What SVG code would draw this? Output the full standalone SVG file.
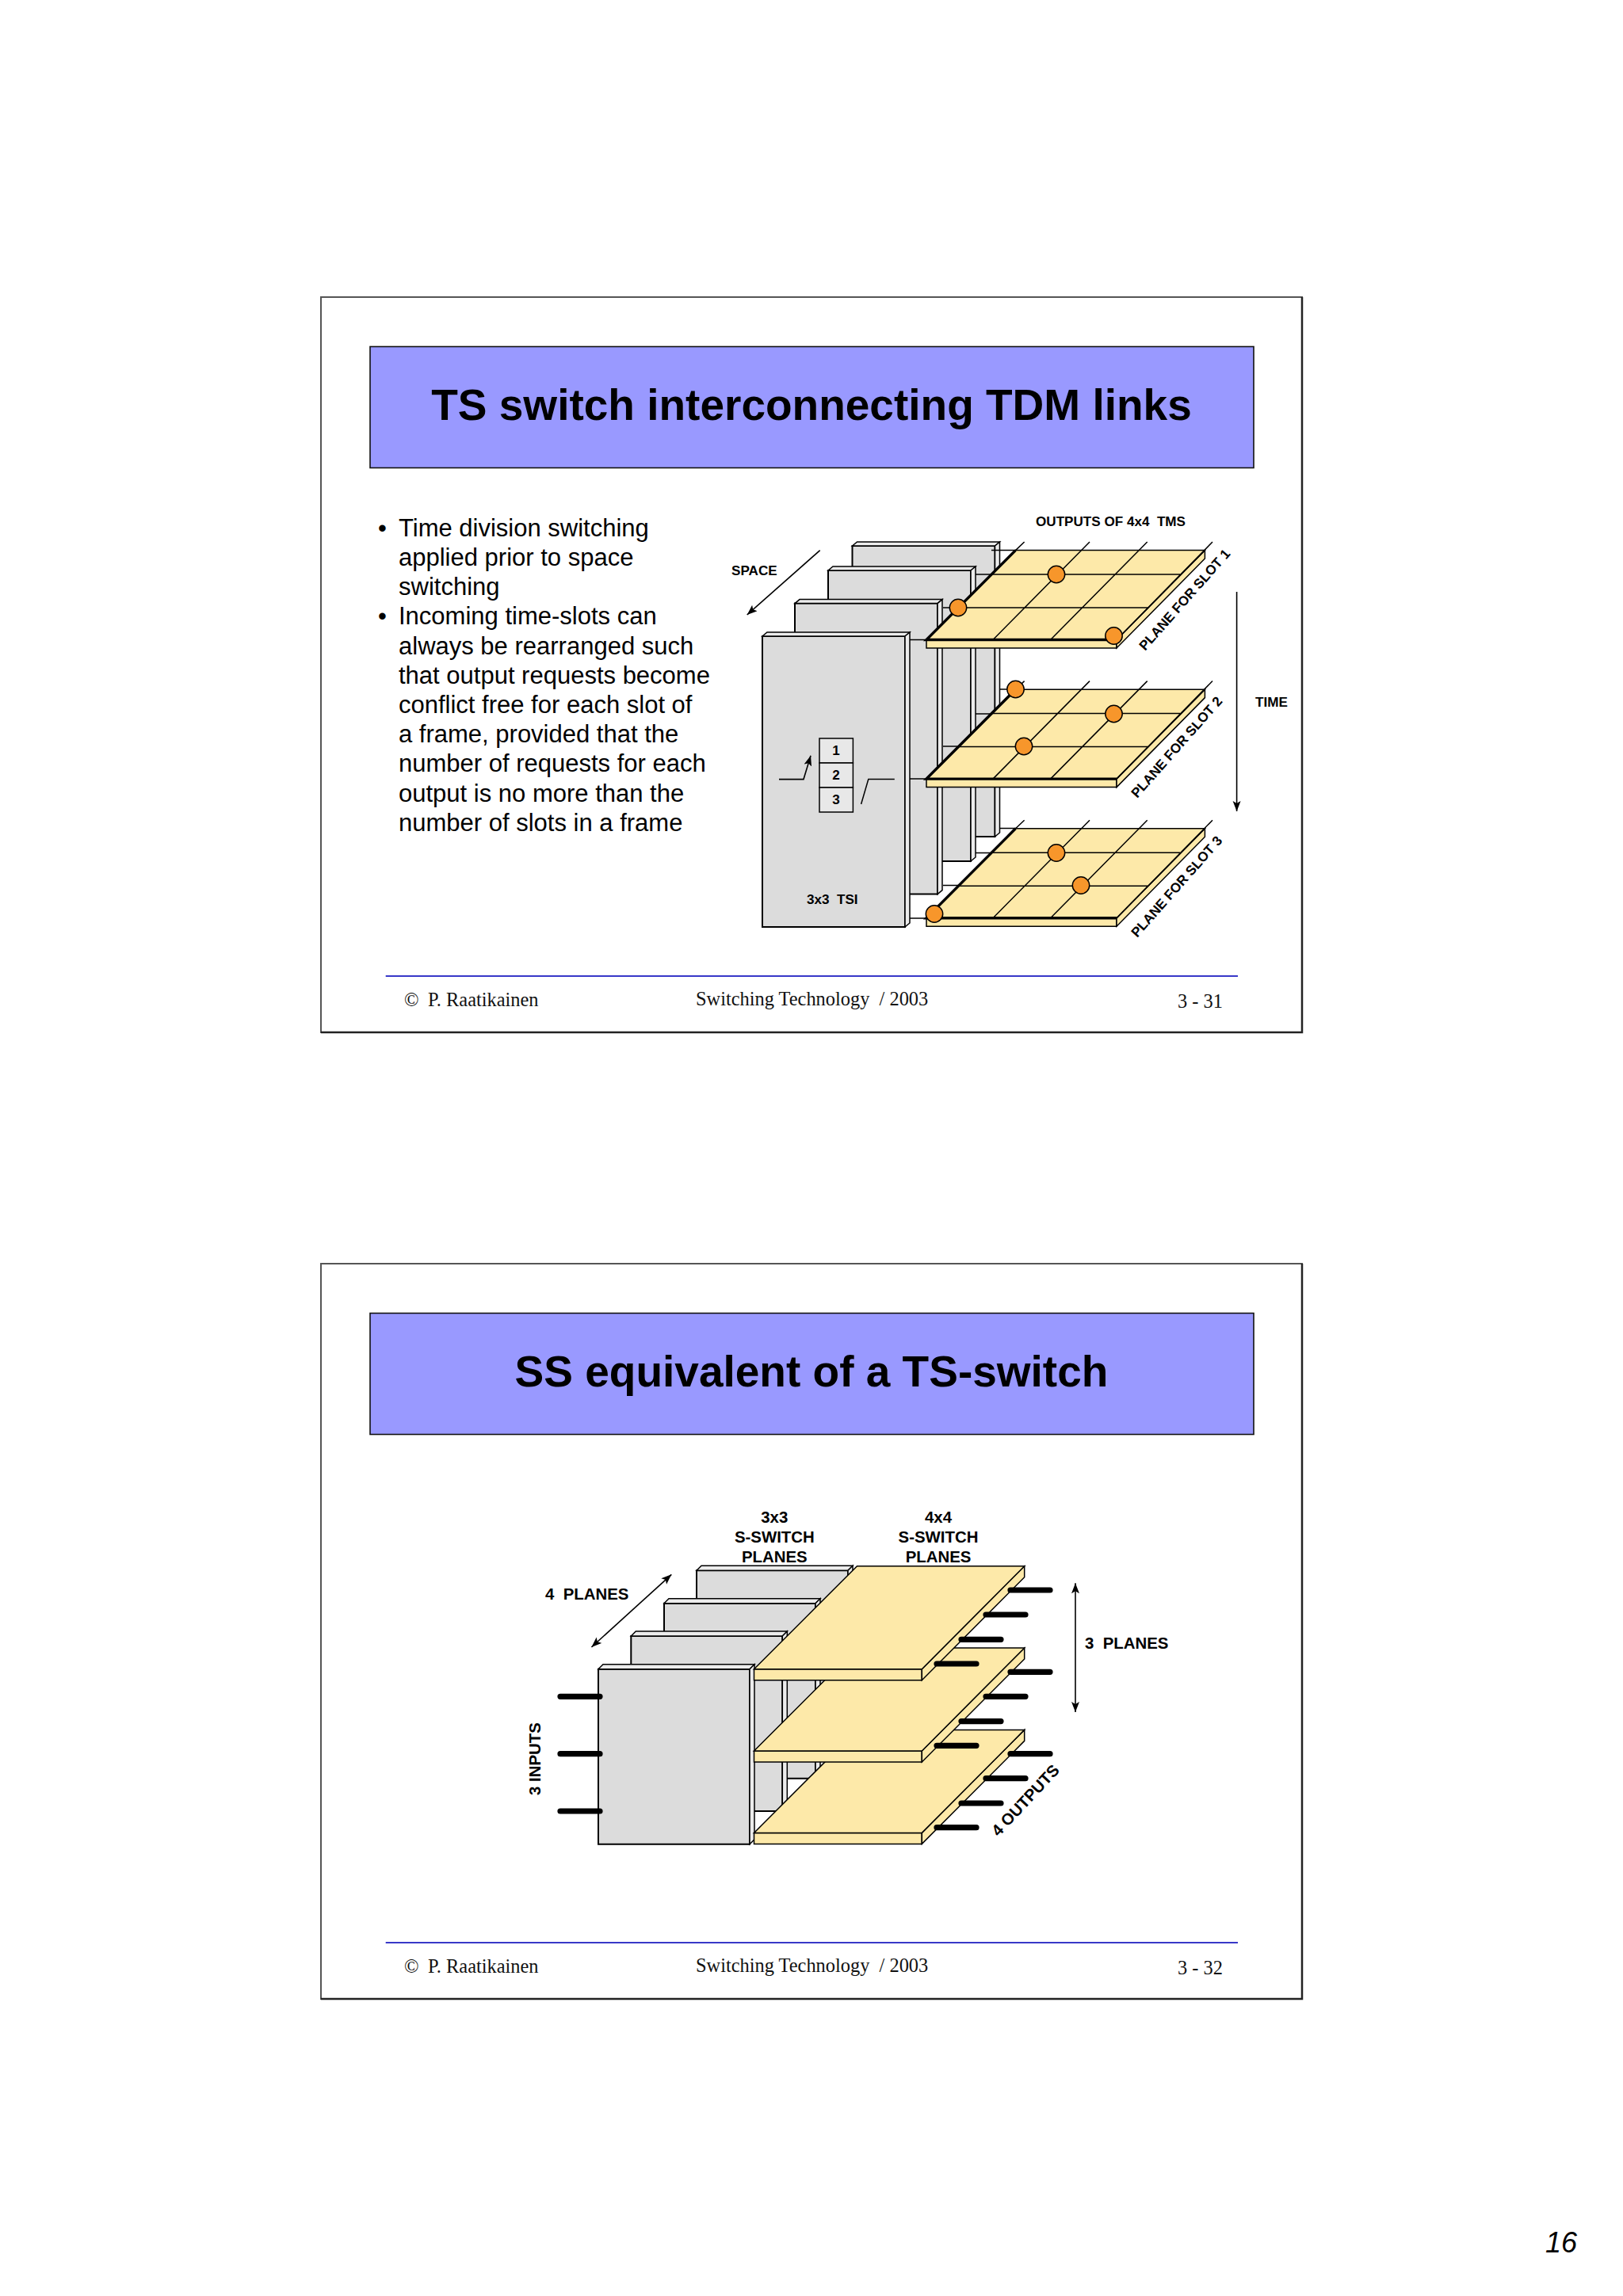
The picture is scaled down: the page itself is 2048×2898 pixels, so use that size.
<svg xmlns="http://www.w3.org/2000/svg" width="2048" height="2898" viewBox="0 0 2048 2898">
<style>
text{font-family:"Liberation Sans",Arial,sans-serif;fill:#000;white-space:pre}
.frame{fill:#fff;stroke:#555;stroke-width:2}
.shade{fill:none;stroke:#222;stroke-width:2.5}
.head{fill:#9999ff;stroke:#111;stroke-width:1.6}
.title{font-size:55px;font-weight:700;text-anchor:middle}
.body{font-size:31px}
.foot{font-family:"Liberation Serif","Times New Roman",serif;font-size:24.4px;fill:#111}
.rule{stroke:#3838c8;stroke-width:2}
.lab{font-size:17.1px;font-weight:700}
.lab2{font-size:20.4px;font-weight:700}
.mid{text-anchor:middle}
.gface{fill:#dcdcdc;stroke:#000;stroke-width:2}
.gbev{fill:#ececec;stroke:#000;stroke-width:1.5}
.yface{fill:#fde9a9;stroke:#000;stroke-width:1.5}
.yedge{fill:#fde9a9;stroke:#000;stroke-width:1.5}
.thick{stroke:#000;stroke-width:3.4;fill:none}
.thin{stroke:#000;stroke-width:1.5;fill:none}
.dot{fill:#f7962b;stroke:#000;stroke-width:1.5}
.pin{stroke:#000;stroke-width:7.2;stroke-linecap:round;fill:none}
.cell{fill:#e8e8e8;stroke:#000;stroke-width:1.5}
.arr{stroke:#000;stroke-width:1.6;fill:none;marker-end:url(#ah)}
.arr2{stroke:#000;stroke-width:1.6;fill:none;marker-end:url(#ah);marker-start:url(#ah)}
</style>
<defs>
<marker id="ah" markerUnits="userSpaceOnUse" markerWidth="14" markerHeight="12" refX="13" refY="5" orient="auto-start-reverse"><path d="M0,0 L13,5 L0,10 L3,5 Z" fill="#000"/></marker>
<g id="tplane">
<polygon class="yedge" points="1169,807.5 1409,807.5 1409,818 1169,818"/>
<polygon class="yedge" points="1409,807.5 1520.4,694.6 1520.4,705 1409,818"/>
<polygon class="yface" points="1169,807.5 1409,807.5 1520.4,694.6 1281.5,694.6"/>
<path class="thin" d="M1251,725H1489M1209.5,767H1449M1253,807.5L1375,684M1325.6,807.5L1447.7,684M1409,807.5L1530,684M1281.5,694.6L1292.6,684"/>
<path class="thick" d="M1281.5,694.6L1169,807.5H1409"/>
</g>
<g id="splane">
<polygon class="yedge" points="951.5,2106.7 1163.3,2106.7 1163.3,2120.7 951.5,2120.7"/>
<polygon class="yedge" points="1163.3,2106.7 1292.7,1976.7 1292.7,1990.7 1163.3,2120.7"/>
<polygon class="yface" points="951.5,2106.7 1163.3,2106.7 1292.7,1976.7 1081.5,1976.7"/>
<path class="pin" d="M1275,2007H1325M1244,2038H1294M1213,2069.3H1263M1182,2100H1232"/>
</g>
<g id="tp"><polygon class="gface" points="0,0 180,0 180,367 0,367"/><polygon class="gbev" points="0,0 6,-5 186,-5 180,0"/><polygon class="gbev" points="180,0 186,-5 186,362 180,367"/></g>
<g id="sp"><polygon class="gface" points="0,0 191,0 191,221 0,221"/><polygon class="gbev" points="0,0 6,-6 197,-6 191,0"/><polygon class="gbev" points="191,0 197,-6 197,215 191,221"/></g>
</defs>
<rect width="2048" height="2898" fill="#fff"/>

<g id="slide1-frame">
<rect class="frame" x="405" y="375" width="1238" height="928"/>
<path class="shade" d="M405,1303H1643V375"/>
<rect class="head" x="467" y="437.5" width="1115" height="153"/>
<text class="title" x="1024" y="530">TS switch interconnecting TDM links</text>
</g>
<g id="slide1-text" class="body">
<text class="body" x="477" y="676.7">•</text><text class="body" x="503" y="676.7">Time division switching</text>
<text class="body" x="503" y="713.9">applied prior to space</text>
<text class="body" x="503" y="751.1">switching</text>
<text class="body" x="477" y="788.3">•</text><text class="body" x="503" y="788.3">Incoming time-slots can</text>
<text class="body" x="503" y="825.5">always be rearranged such</text>
<text class="body" x="503" y="862.7">that output requests become</text>
<text class="body" x="503" y="899.9">conflict free for each slot of</text>
<text class="body" x="503" y="937.1">a frame, provided that the</text>
<text class="body" x="503" y="974.3">number of requests for each</text>
<text class="body" x="503" y="1011.5">output is no more than the</text>
<text class="body" x="503" y="1048.7">number of slots in a frame</text>
</g>
<g id="tsi-panel-4"><use href="#tp" x="1075.5" y="689"/></g>
<g id="tsi-panel-3"><use href="#tp" x="1045" y="720"/></g>
<g id="tsi-panel-2"><use href="#tp" x="1003" y="761.6"/></g>
<g id="tsi-panel-1"><use href="#tp" x="962" y="803"/>
<rect class="cell" x="1034" y="932" width="42.4" height="31"/>
<rect class="cell" x="1034" y="963" width="42.4" height="31"/>
<rect class="cell" x="1034" y="994" width="42.4" height="31"/>
<text class="lab mid" x="1055" y="953">1</text><text class="lab mid" x="1055" y="984">2</text><text class="lab mid" x="1055" y="1015">3</text>
<text class="lab" x="1018" y="1140.5">3x3  TSI</text>
</g>
<g id="connectors-slide1">
<path class="thin" d="M1251,694.6H1282M1231,725H1252M1190,767H1210M1148,807.5H1170"/>
<path class="thin" d="M1262,870H1282M1231,901H1252M1190,942H1210M1148,983H1170"/>
<path class="thin" d="M1262,1045.6H1282M1231,1076.5H1252M1190,1117.5H1210M1148,1159H1170"/>
<path class="arr" d="M983,983.6H1014L1023,953.7"/>
<path class="thin" d="M1128.8,983.6H1095.8L1086.6,1015"/>
<path class="arr" d="M1034.7,694.6L942.7,776"/>
<path class="arr" d="M1560.6,747V1024"/>
</g>
<g id="plane-slot-1"><use href="#tplane"/>
<circle class="dot" cx="1333" cy="725" r="10.7"/><circle class="dot" cx="1209" cy="767" r="10.7"/><circle class="dot" cx="1405.5" cy="802.5" r="10.7"/>
<text class="lab" transform="translate(1445,822) rotate(-48.5)">PLANE FOR SLOT 1</text></g>
<g id="plane-slot-2"><use href="#tplane" y="175.6"/>
<circle class="dot" cx="1281.5" cy="870" r="10.7"/><circle class="dot" cx="1405.5" cy="901" r="10.7"/><circle class="dot" cx="1292" cy="942" r="10.7"/>
<text class="lab" transform="translate(1435,1008) rotate(-48.5)">PLANE FOR SLOT 2</text></g>
<g id="plane-slot-3"><use href="#tplane" y="351.2"/>
<circle class="dot" cx="1333" cy="1076.5" r="10.7"/><circle class="dot" cx="1364" cy="1117.5" r="10.7"/><circle class="dot" cx="1179" cy="1153.5" r="10.7"/>
<text class="lab" transform="translate(1435,1184) rotate(-48.5)">PLANE FOR SLOT 3</text></g>
<g id="slide1-labels">
<text class="lab" x="1307" y="664">OUTPUTS OF 4x4  TMS</text>
<text class="lab" x="923" y="725.6">SPACE</text>
<text class="lab" x="1584" y="891.7">TIME</text>
</g>
<g id="slide1-footer">
<line class="rule" x1="486.7" y1="1232" x2="1562" y2="1232"/>
<text class="foot" x="510" y="1269.5">©</text><text class="foot" x="540" y="1269.5">P. Raatikainen</text>
<text class="foot" x="878" y="1269">Switching Technology  / 2003</text>
<text class="foot" x="1486" y="1271.5">3 - 31</text>
</g>

<g id="slide2-frame">
<rect class="frame" x="405" y="1595" width="1238" height="928"/>
<path class="shade" d="M405,2523H1643V1595"/>
<rect class="head" x="467" y="1657.5" width="1115" height="153"/>
<text class="title" x="1024" y="1750">SS equivalent of a TS-switch</text>
</g>
<g id="s-panel-4"><use href="#sp" x="879" y="1982.3"/></g>
<g id="s-panel-3"><use href="#sp" x="838" y="2023.7"/></g>
<g id="s-panel-2"><use href="#sp" x="796.3" y="2065"/></g>
<g id="s-panel-1"><use href="#sp" x="755" y="2106.7"/></g>
<g id="connectors-slide2">
<path class="pin" d="M707,2141.3H757M707,2213.7H757M707,2286H757"/>
<path class="arr2" d="M847.3,1987.3L746.4,2079"/>
<path class="arr2" d="M1357,1998.3V2161"/>
</g>
<g id="s-plane-3"><use href="#splane" y="206.7"/></g>
<g id="s-plane-2"><use href="#splane" y="103.3"/></g>
<g id="s-plane-1"><use href="#splane"/></g>
<g id="slide2-labels">
<text class="lab2 mid" x="977.3" y="1921.7">3x3</text>
<text class="lab2 mid" x="977.3" y="1946.7">S-SWITCH</text>
<text class="lab2 mid" x="977.3" y="1971.7">PLANES</text>
<text class="lab2 mid" x="1184" y="1921.7">4x4</text>
<text class="lab2 mid" x="1184" y="1946.7">S-SWITCH</text>
<text class="lab2 mid" x="1184" y="1971.7">PLANES</text>
<text class="lab2" x="688" y="2019">4  PLANES</text>
<text class="lab2" x="1369" y="2081">3  PLANES</text>
<text class="lab2" transform="translate(681.7,2266) rotate(-90)">3 INPUTS</text>
<text class="lab2" transform="translate(1260,2319) rotate(-47)">4 OUTPUTS</text>
</g>
<g id="slide2-footer">
<line class="rule" x1="486.7" y1="2452" x2="1562" y2="2452"/>
<text class="foot" x="510" y="2489.5">©</text><text class="foot" x="540" y="2489.5">P. Raatikainen</text>
<text class="foot" x="878" y="2489">Switching Technology  / 2003</text>
<text class="foot" x="1486" y="2491.5">3 - 32</text>
</g>
<text id="page-number" x="1950" y="2843" font-size="36" font-style="italic">16</text>
</svg>
